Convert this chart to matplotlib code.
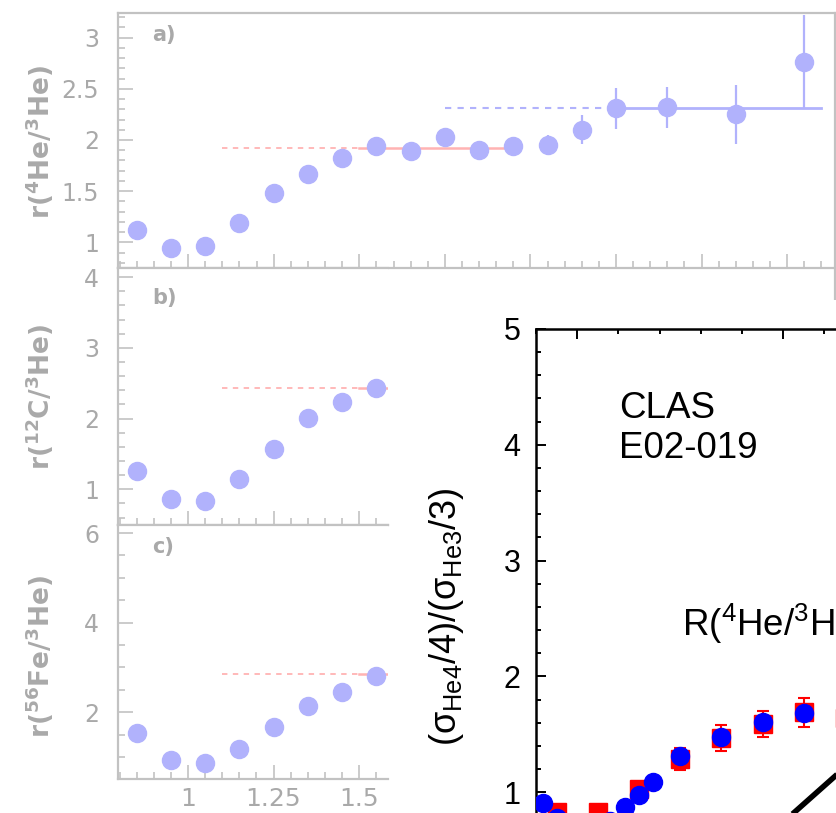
import matplotlib
matplotlib.use("Agg")
import matplotlib.pyplot as plt
from matplotlib.ticker import MultipleLocator
from matplotlib.lines import Line2D

# background figure: ratios r(A/3He) vs x
xa = [0.85, 0.95, 1.05, 1.15, 1.25, 1.35, 1.45, 1.55, 1.65, 1.75, 1.85, 1.95, 2.05, 2.15, 2.25, 2.40, 2.60, 2.80]
ya = [1.12, 0.95, 0.96, 1.19, 1.48, 1.67, 1.82, 1.94, 1.89, 2.03, 1.90, 1.94, 1.95, 2.10, 2.31, 2.32, 2.25, 2.76]
ea = [0.02, 0.02, 0.02, 0.02, 0.03, 0.03, 0.03, 0.04, 0.05, 0.06, 0.06, 0.07, 0.10, 0.14, 0.20, 0.20, 0.29, 0.46]

x_bc = [0.85, 0.95, 1.05, 1.15, 1.25, 1.35, 1.45, 1.55]
yb = [1.26, 0.86, 0.83, 1.15, 1.57, 2.01, 2.24, 2.43]
yc = [1.53, 0.93, 0.86, 1.18, 1.67, 2.14, 2.45, 2.81]

# plateau lines (level, dashed range, solid range)
a_red = (1.92, (1.10, 1.50), (1.50, 1.95))
a_blue = (2.31, (1.75, 2.25), (2.25, 2.85))
b_red = (2.43, (1.10, 1.50), (1.50, 1.60))
c_red = (2.85, (1.10, 1.50), (1.50, 1.60))

# inset: CLAS / E02-019 4He/3He
x_clas = [0.95, 1.05, 1.15, 1.25, 1.35, 1.45, 1.55, 1.65]
y_clas = [0.83, 0.83, 1.03, 1.29, 1.47, 1.59, 1.69, 1.64]
e_clas = [0.04, 0.04, 0.05, 0.095, 0.11, 0.11, 0.125, 0.12]
x_e02 = [0.917, 0.95, 1.08, 1.117, 1.15, 1.185, 1.25, 1.35, 1.45, 1.55]
y_e02 = [0.905, 0.78, 0.75, 0.87, 0.98, 1.09, 1.31, 1.48, 1.61, 1.68]
x_line = [1.50, 1.75]
y_line = [0.74, 1.53]

W, H = 836, 813
GREY_T = '#a9a9a9'
GREY_F = '#c2c2c2'
LAV = '#b1b2fc'
PINK = '#ffb3b3'


def box(l, t, r, b):
    return [l / W, 1 - b / H, (r - l) / W, (b - t) / H]


fig = plt.figure(figsize=(W / 100, H / 100), dpi=100)
fig.patch.set_facecolor('white')


def bg_panel(rect, xlim, ylim, ymin, yticks, ylabels):
    ax = fig.add_axes(rect)
    ax.set_xlim(*xlim)
    ax.set_ylim(*ylim)
    for s in ax.spines.values():
        s.set_color(GREY_F)
        s.set_linewidth(1.6)
    ax.xaxis.set_major_locator(MultipleLocator(0.25))
    ax.xaxis.set_minor_locator(MultipleLocator(0.05))
    ax.yaxis.set_minor_locator(MultipleLocator(ymin))
    ax.set_yticks(yticks, ylabels)
    ax.tick_params(which='both', direction='in', color=GREY_F, width=1.2,
                   labelcolor=GREY_T, labelsize=17)
    ax.tick_params(axis='y', which='major', length=11, pad=13.5)
    ax.tick_params(axis='y', which='minor', length=5)
    ax.tick_params(axis='x', which='major', length=10, labelsize=18, pad=6)
    ax.tick_params(axis='x', which='minor', length=5)
    return ax


def plateau(ax, spec, color, lw):
    lvl, dash, solid = spec
    ax.plot(dash, [lvl, lvl], color=color, lw=lw, ls=(0, (3, 3)))
    ax.plot(solid, [lvl, lvl], color=color, lw=lw + 0.5)


axa = bg_panel(box(118, 13, 835, 268), (0.795, 2.89), (0.75, 3.24), 0.1,
               [1, 1.5, 2, 2.5, 3], ['1', '1.5', '2', '2.5', '3'])
axa.tick_params(axis='x', labelbottom=False)
plateau(axa, a_red, PINK, 1.3)
plateau(axa, a_blue, LAV, 1.5)
axa.errorbar(xa, ya, yerr=ea, fmt='o', ms=13, color=LAV, ecolor=LAV,
             elinewidth=1.6, capsize=0, zorder=3)

axb = bg_panel(box(118, 268, 388, 525), (0.795, 1.585), (0.495, 4.13), 0.2,
               [1, 2, 3, 4], ['1', '2', '3', '4'])
axb.tick_params(axis='x', labelbottom=False)
axb.spines['right'].set_visible(False)
plateau(axb, b_red, PINK, 1.3)
axb.plot(x_bc, yb, 'o', ms=13, color=LAV, zorder=3)

axc = bg_panel(box(118, 525, 388, 779), (0.795, 1.585), (0.51, 6.18), 0.5,
               [2, 4, 6], ['2', '4', '6'])
axc.set_xticks([1, 1.25, 1.5], ['1', '1.25', '1.5'])
axc.spines['right'].set_visible(False)
plateau(axc, c_red, PINK, 1.3)
axc.plot(x_bc, yc, 'o', ms=13, color=LAV, zorder=3)

for lab, (px, py) in zip(['a)', 'b)', 'c)'], [(152, 35), (152, 298), (152, 547)]):
    fig.text(px / W, 1 - py / H, lab, fontsize=15, fontweight='bold',
             color=GREY_T, ha='left', va='center')

for lab, py in zip([r'$\mathregular{r(^{4}He/^{3}He)}$',
                    r'$\mathregular{r(^{12}C/^{3}He)}$',
                    r'$\mathregular{r(^{56}Fe/^{3}He)}$'], [142, 397, 657]):
    fig.text(40 / W, 1 - py / H, lab, rotation=90, fontsize=19, fontweight='bold',
             color=GREY_T, ha='center', va='center')

fig.add_artist(Line2D([835 / W, 835 / W], [1 - 268 / H, 1 - 300 / H],
                      color=GREY_F, lw=1.6))

# white area of the overlaid plot
cover = fig.add_axes(box(395, 300, 836, 813), zorder=4)
cover.set_facecolor('white')
cover.set_xticks([])
cover.set_yticks([])
for s in cover.spines.values():
    s.set_visible(False)

# overlaid plot
HEL = 'Liberation Sans'
ax = fig.add_axes(box(536, 329, 1401, 908), zorder=5)
ax.set_facecolor('white')
ax.set_xlim(0.9, 3.0)
ax.set_ylim(0, 5)
for s in ax.spines.values():
    s.set_linewidth(1.8)
ax.xaxis.set_major_locator(MultipleLocator(0.5))
ax.xaxis.set_minor_locator(MultipleLocator(0.1))
ax.yaxis.set_minor_locator(MultipleLocator(0.2))
ax.set_yticks([1, 2, 3, 4, 5], ['1', '2', '3', '4', '5'], fontfamily=HEL)
ax.tick_params(which='both', direction='in', top=True, right=True, width=1.4,
               labelsize=22, labelbottom=False)
ax.tick_params(which='major', length=7, pad=11)
ax.tick_params(which='minor', length=3.5)

ax.plot(x_line, y_line, color='black', lw=4, solid_capstyle='butt', zorder=2)
ax.errorbar(x_clas, y_clas, yerr=e_clas, fmt='s', ms=13, color='red', ecolor='red',
            elinewidth=1.5, capsize=4, capthick=1.5, zorder=3)
ax.plot(x_e02, y_e02, 'o', ms=13, color='blue', zorder=4)

ax.text(1.102, 4.23, 'CLAS', fontsize=26.5, fontfamily=HEL, va='baseline')
ax.text(1.102, 3.89, 'E02-019', fontsize=26.5, fontfamily=HEL, va='baseline')
ax.text(1.255, 2.35, r'$\mathregular{R(^{4}He/^{3}He)}$', fontsize=26.5,
        fontfamily=HEL, va='baseline')

fig.text(447 / W, 1 - 617 / H, r'$\mathregular{(σ_{He4}/4)/(σ_{He3}/3)}$',
         rotation=90, fontsize=26, fontfamily=HEL, ha='center', va='center',
         zorder=10)

fig.savefig('out.png', dpi=100)
